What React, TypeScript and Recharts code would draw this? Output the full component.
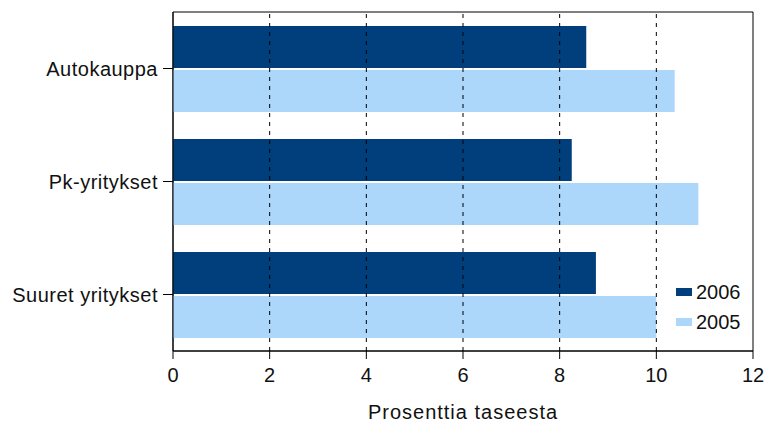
import { Bar, BarChart, XAxis, YAxis, ReferenceLine, ReferenceArea } from 'recharts';

const categories = ['Autokauppa', 'Pk-yritykset', 'Suuret yritykset'];
const values2006 = [8.55, 8.25, 8.75];
const values2005 = [10.38, 10.87, 10.0];
const xTicks = [0, 2, 4, 6, 8, 10, 12];
const gridTicks = [2, 4, 6, 8, 10];
const series = [
  { key: 'y2006', name: '2006', color: '#013F7C' },
  { key: 'y2005', name: '2005', color: '#ACD7FA' },
];

const data = categories.map((name, i) => ({ name, y2006: values2006[i], y2005: values2005[i] }));

const font = { fontFamily: '"Liberation Sans", Arial, sans-serif', fontSize: 20, fill: '#111' };

export default function App() {
  return (
    <div style={{ position: 'relative', width: 765, height: 423 }}>
      <style>{`body{margin:0}`}</style>
      <BarChart
        width={765}
        height={423}
        data={data}
        layout="vertical"
        margin={{ top: 12, right: 12, left: 0, bottom: 0 }}
        barCategoryGap={14}
        barGap={2}
      >
        <XAxis
          type="number"
          domain={[0, 12]}
          ticks={xTicks}
          tick={font}
          tickSize={8}
          tickMargin={9}
          stroke="#000"
          height={72}
          label={{ value: 'Prosenttia taseesta', position: 'insideBottom', offset: 4, style: { ...font, letterSpacing: 1 } }}
        />
        <YAxis
          type="category"
          dataKey="name"
          width={173}
          tick={{ ...font, letterSpacing: 0.5 }}
          tickSize={10}
          tickMargin={5}
          stroke="#000"
        />
        <ReferenceArea x1={0} x2={12} fill="none" stroke="#000" strokeWidth={1} />
        {gridTicks.map((t) => (
          <ReferenceLine key={t} x={t} stroke="#000" strokeDasharray="4 5" />
        ))}
        {series.map((s) => (
          <Bar key={s.key} dataKey={s.key} name={s.name} fill={s.color} isAnimationActive={false} />
        ))}
      </BarChart>
      <div
        style={{
          position: 'absolute',
          left: 676,
          top: 277,
          fontFamily: font.fontFamily,
          fontSize: 20,
          color: '#111',
        }}
      >
        {series.map((s) => (
          <div key={s.key} style={{ display: 'flex', alignItems: 'center', height: 30 }}>
            <span style={{ width: 16, height: 8, background: s.color, marginRight: 4, display: 'inline-block' }} />
            <span>{s.name}</span>
          </div>
        ))}
      </div>
    </div>
  );
}
